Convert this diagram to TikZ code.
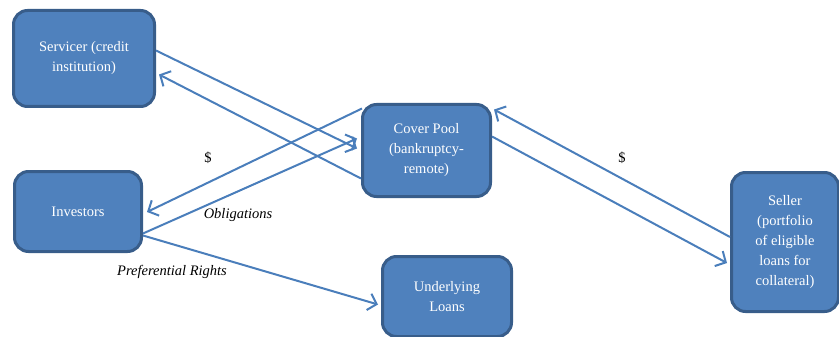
\documentclass[tikz,border=0pt]{standalone}
\usepackage{fontspec}
\setmainfont{Liberation Serif}
\usetikzlibrary{arrows.meta}
\definecolor{boxfill}{HTML}{4F81BD}
\definecolor{boxedge}{HTML}{385D8A}
\definecolor{arrowcol}{HTML}{4A7EBB}
\begin{document}
\begin{tikzpicture}[x=1pt,y=-1pt,
  box/.style={draw=boxedge, fill=boxfill, line width=3pt, rounded corners=14pt,
    text=white, align=center, inner sep=0pt,
    font=\fontsize{14.5}{20}\selectfont},
  link/.style={draw=arrowcol, line width=2pt,
    -{Straight Barb[length=8pt,width=17pt,line width=2pt]}},
  lbl/.style={font=\fontsize{14.5}{16}\selectfont, text=black, inner sep=0pt}]
\useasboundingbox (0,0) rectangle (839,337);
\node[box, minimum width=141pt, minimum height=96pt] (serv) at (84,58.5) {Servicer (credit\\institution)};
\node[box, minimum width=127pt, minimum height=80pt] (inv) at (78,211.5) {Investors};
\node[box, minimum width=128pt, minimum height=92pt] (pool) at (426.5,150.5) {Cover Pool\\(bankruptcy-\\remote)};
\node[box, minimum width=129pt, minimum height=80pt] (loans) at (447,296.5) {Underlying\\Loans};
\node[box, minimum width=107pt, minimum height=139pt] (seller) at (785,242) {Seller\\(portfolio\\of eligible\\loans for\\collateral)};

\draw[link] ([yshift=8pt]serv.east) -- ([xshift=-4pt,yshift=2pt]pool.west);
\draw[link] ([yshift=-28pt]pool.west) -- ([xshift=3pt,yshift=-16pt]serv.east);
\draw[link] ([xshift=1pt,yshift=42pt]pool.west) -- ([xshift=4pt,yshift=-0.5pt]inv.east);
\draw[link] ([yshift=-22pt]inv.east) -- ([xshift=-4pt,yshift=12pt]pool.west);
\draw[link] ([yshift=-24pt]inv.east) -- ([xshift=-3pt,yshift=-8pt]loans.west);
\draw[link] ([yshift=5pt]seller.west) -- ([xshift=2pt,yshift=41pt]pool.east);
\draw[link] ([yshift=14pt]pool.east) -- ([xshift=-3pt,yshift=-21pt]seller.west);

\node[lbl] (d1) at (208,158) {\$};
\node[lbl] (d2) at (622,158) {\$};
\node[lbl] (obl) at (238,215) {\textit{Obligations}};
\node[lbl] (pref) at (172,272) {\textit{Preferential Rights}};
\end{tikzpicture}
\end{document}
